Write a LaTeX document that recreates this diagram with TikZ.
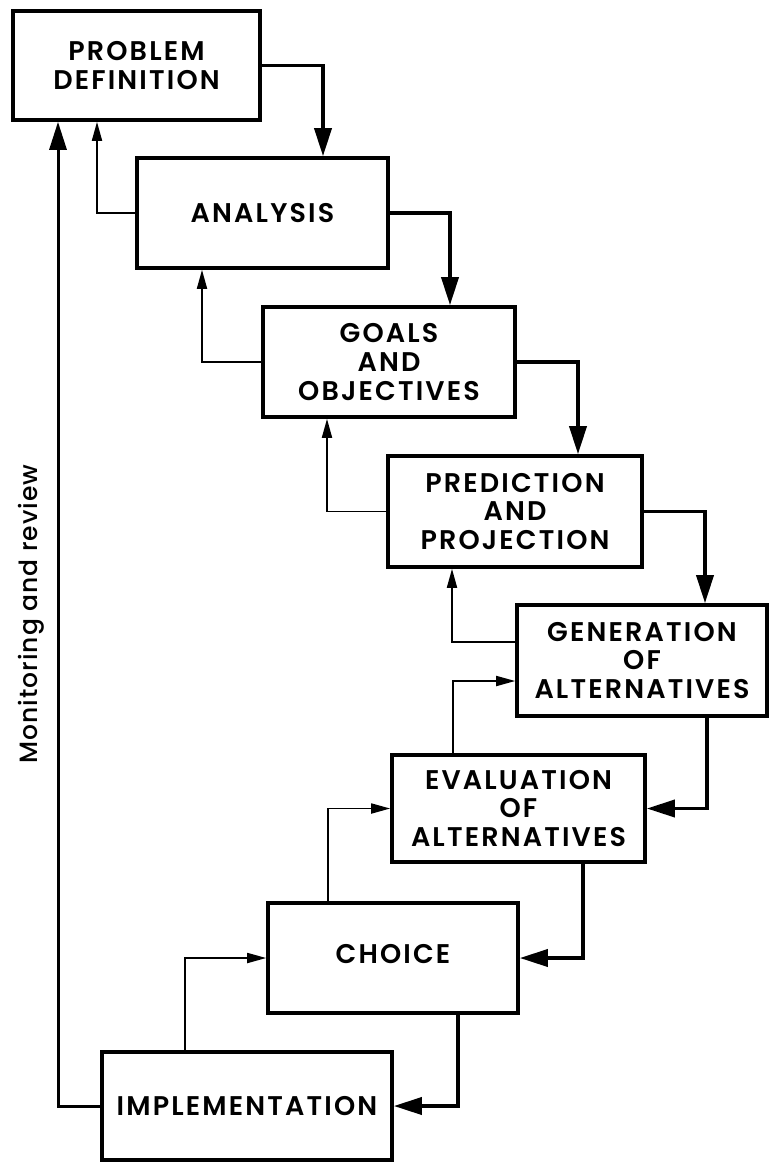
\documentclass[tikz,border=0pt]{standalone}
\usepackage{fontspec}
\usetikzlibrary{arrows.meta}
\newfontfamily\boxfont{Poppins SemiBold}[LetterSpace=8]
\newfontfamily\notefont{Poppins Medium}[LetterSpace=4]

\begin{document}
\begin{tikzpicture}[x=1pt,y=-1pt,
  stage/.style={draw, line width=3.6pt, minimum width=251pt, minimum height=110pt,
    inner sep=0pt, align=center, font=\boxfont\fontsize{27}{28.7}\selectfont},
  fwd/.style={line width=3.6pt, -{Triangle[length=28pt,width=17pt]}},
  back/.style={line width=1.8pt, -{Triangle[length=19pt,width=10pt]}},
  monitor/.style={line width=3pt, -{Triangle[length=28pt,width=17pt]}},
]
\useasboundingbox (0,0) rectangle (769,1163);

% stages of the process
\node[stage, minimum width=247pt, minimum height=109pt] (b1) at (136.5,65.5) {PROBLEM\\DEFINITION};
\node[stage] (b2) at (262.5,213) {ANALYSIS};
\node[stage, minimum width=252pt] (b3) at (389,362) {GOALS\\AND\\OBJECTIVES};
\node[stage, minimum width=254pt, minimum height=111pt] (b4) at (515,511.5) {PREDICTION\\AND\\PROJECTION};
\node[stage, minimum width=250pt, minimum height=111pt] (b5) at (642,660.5) {GENERATION\\OF\\ALTERNATIVES};
\node[stage, minimum width=253pt, minimum height=107pt] (b6) at (518.5,808.5) {EVALUATION\\OF\\ALTERNATIVES};
\node[stage, minimum width=250pt, text depth=8pt] (b7) at (393,958) {CHOICE};
\node[stage, minimum width=290pt, minimum height=108pt] (b8) at (247,1106) {IMPLEMENTATION};

% forward path
\draw[fwd] (b1.east) -| ([xshift=60.5pt]b2.north);
\draw[fwd] (b2.east) -| ([xshift=61pt]b3.north);
\draw[fwd] (b3.east) -| ([xshift=63pt]b4.north);
\draw[fwd] (b4.east) -| ([xshift=63pt]b5.north);
\draw[fwd] ([xshift=65pt]b5.south) |- (b6.east);
\draw[fwd] ([xshift=64.5pt]b6.south) |- (b7.east);
\draw[fwd] ([xshift=65pt]b7.south) |- (b8.east);

% feedback paths
\draw[back] (b2.west) -| ([xshift=-39.5pt]b1.south);
\draw[back] (b3.west) -| ([xshift=-60.5pt]b2.south);
\draw[back] (b4.west) -| ([xshift=-62pt]b3.south);
\draw[back] ([yshift=18.5pt]b5.west) -| ([xshift=-63pt]b4.south);
\draw[back] ([xshift=-65.5pt]b6.north) |- ([yshift=-20.5pt]b5.west);
\draw[back] ([xshift=-65pt]b7.north) |- (b6.west);
\draw[back] ([xshift=-62pt]b8.north) |- (b7.west);

% monitoring loop
\draw[monitor] (b8.west) -| ([xshift=-78.5pt]b1.south);
\node[rotate=90, font=\notefont\fontsize{25}{28}\selectfont] (mon) at (31,614) {Monitoring and review};
\end{tikzpicture}
\end{document}
